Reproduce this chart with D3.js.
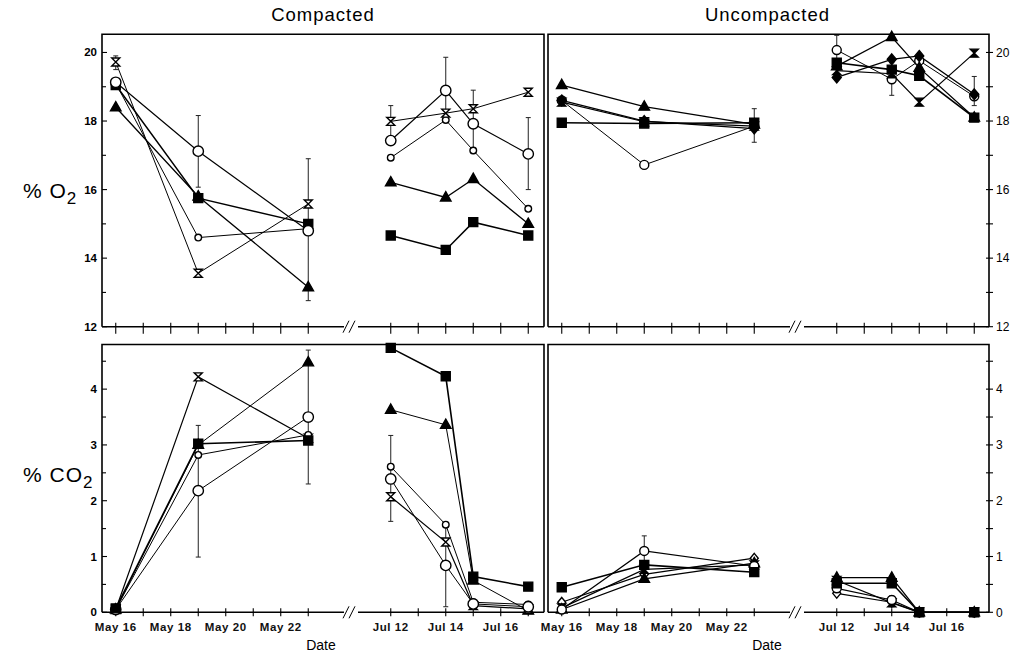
<!DOCTYPE html>
<html>
<head>
<meta charset="utf-8">
<script src="https://cdn.jsdelivr.net/npm/d3@7"></script>
<style>
  html, body { margin: 0; padding: 0; background: #fff; }
  svg { display: block; font-family: "Liberation Sans", Arial, Helvetica, sans-serif; }
</style>
</head>
<body>
<svg id="chart" width="1018" height="659"></svg>
<script>
// ---------------- DATA ----------------
const sampleDates = ["1987-05-16","1987-05-19","1987-05-23","1987-07-12","1987-07-14","1987-07-15","1987-07-17"];
const mayTickDates = ["1987-05-16","1987-05-17","1987-05-18","1987-05-19","1987-05-20","1987-05-21","1987-05-22","1987-05-23"];
const julTickDates = ["1987-07-12","1987-07-13","1987-07-14","1987-07-15","1987-07-16","1987-07-17"];
const dateTickLabels = ["May 16","May 18","May 20","May 22","Jul 12","Jul 14","Jul 16"];
const dateTickLabelDates = ["1987-05-16","1987-05-18","1987-05-20","1987-05-22","1987-07-12","1987-07-14","1987-07-16"];
const o2Ticks = [12, 14, 16, 18, 20];
const o2MinorTicks = [13, 15, 17, 19];
const co2Ticks = [0, 1, 2, 3, 4];
const co2MinorTicks = [0.5, 1.5, 2.5, 3.5, 4.5];
const panelTitles = ["Compacted", "Uncompacted"];

// Compacted, % O2
const compO2_circle    = [19.13, 17.12, 14.80, 17.43, 18.89, 17.92, 17.04];
const compO2_small     = [19.10, 14.60, 14.86, 16.93, 18.03, 17.14, 15.44];
const compO2_square    = [19.05, 15.75, 15.00, 14.66, 14.24, 15.05, 14.66];
const compO2_triangle  = [18.40, 15.80, 13.15, 16.21, 15.77, 16.31, 15.00];
const compO2_hourglass = [19.72, 13.56, 15.58, 17.99, 18.23, 18.36, 18.84];

// Uncompacted, % O2
const uncO2_circle    = [18.60, 16.72, 17.85, 20.07, 19.22, 19.76, 18.72];
const uncO2_diamond   = [18.60, 18.00, 17.78, 19.27, 19.80, 19.90, 18.78];
const uncO2_square    = [17.95, 17.93, 17.95, 19.70, 19.50, 19.32, 18.10];
const uncO2_triangle  = [19.05, 18.42, 17.90, 19.60, 20.45, 19.55, 18.10];
const uncO2_hourglass = [18.55, 17.98, 17.85, 19.47, 19.38, 18.55, 19.98];

// Compacted, % CO2
const compCO2_circle    = [0.05, 2.18, 3.50, 2.39, 0.84, 0.15, 0.10];
const compCO2_small     = [0.05, 2.82, 3.18, 2.61, 1.57, 0.18, 0.14];
const compCO2_square    = [0.07, 3.02, 3.08, 4.74, 4.23, 0.64, 0.46];
const compCO2_triangle  = [0.05, 3.00, 4.48, 3.63, 3.36, 0.57, 0.03];
const compCO2_hourglass = [0.05, 4.22, 3.12, 2.07, 1.26, 0.12, 0.06];

// Uncompacted, % CO2
const uncCO2_circle    = [0.05, 1.10, 0.83, 0.43, 0.22, 0, 0];
const uncCO2_diamond   = [0.18, 0.68, 0.97, 0.34, 0.18, 0, 0];
const uncCO2_square    = [0.45, 0.85, 0.72, 0.52, 0.52, 0, 0];
const uncCO2_triangle  = [0.05, 0.60, 0.88, 0.62, 0.62, 0, 0];
const uncCO2_hourglass = [0.08, 0.77, 0.85, 0.57, 0.17, 0, 0];

// Error bars: [date index, low, high]
const compO2_err  = [[0, 19.5, 19.9], [1, 16.07, 18.16], [2, 12.76, 16.9], [3, 17.4, 18.45], [4, 18.0, 19.86], [5, 17.05, 18.9], [6, 16.0, 18.1]];
const uncO2_err   = [[2, 17.38, 18.36], [3, 19.6, 20.5], [4, 18.75, 19.7], [6, 18.45, 19.3]];
const compCO2_err = [[1, 0.99, 3.35], [2, 2.3, 4.7], [3, 1.63, 3.17], [4, 0.1, 1.52]];
const uncCO2_err  = [[1, 0.85, 1.37], [4, 0.1, 0.3]];

// ---------------- LAYOUT ----------------
const svg = d3.select("#chart");
const parse = d3.timeParse("%Y-%m-%d");

const cols = [{x0: 102, w: 442}, {x0: 548, w: 441}];
const rows = [
  {y0: 34.3, y1: 326.7, domain: [12, 20.53], ticks: o2Ticks, minor: o2MinorTicks},
  {y0: 344.5, y1: 612.3, domain: [0, 4.80], ticks: co2Ticks, minor: co2MinorTicks}
];
const dayW = 27.5;

function xScaleFor(col) {
  const c = cols[col];
  return d3.scaleTime()
    .domain([parse("1987-05-16"), parse("1987-05-23"), parse("1987-07-12"), parse("1987-07-17")])
    .range([c.x0 + 0.5 * dayW, c.x0 + 7.5 * dayW, c.x0 + 10.5 * dayW, c.x0 + 15.5 * dayW]);
}

const symbolPaths = {
  circle: r => d3.arc()({innerRadius: 0, outerRadius: r, startAngle: 0, endAngle: 2 * Math.PI}),
  square: s => `M${-s},${-s}H${s}V${s}H${-s}Z`,
  triangle: s => `M0,${-s * 1.15}L${s * 1.05},${s * 0.7}L${-s * 1.05},${s * 0.7}Z`,
  hourglass: s => `M${-s},${-s}H${s}L${-s},${s}H${s}Z`,
  diamond: s => `M0,${-s * 1.2}L${s},0L0,${s * 1.2}L${-s},0Z`
};

const panels = [
  {col: 0, row: 0, err: compO2_err, series: [
    {v: compO2_triangle, shape: "triangle", size: 5, fill: "#000", lw: 1.3},
    {v: compO2_square, shape: "square", size: 4.5, fill: "#000", lw: 1.5},
    {v: compO2_small, shape: "circle", size: 3.3, fill: "#fff", lw: 1.0},
    {v: compO2_hourglass, shape: "hourglass", size: 4, fill: "#fff", lw: 1.0},
    {v: compO2_circle, shape: "circle", size: 5.2, fill: "#fff", lw: 1.2}
  ]},
  {col: 1, row: 0, err: uncO2_err, series: [
    {v: uncO2_circle, shape: "circle", size: 4.5, fill: "#fff", lw: 1.0},
    {v: uncO2_hourglass, shape: "hourglass", size: 4, fill: "#000", lw: 1.2},
    {v: uncO2_diamond, shape: "diamond", size: 4.5, fill: "#000", lw: 1.3},
    {v: uncO2_triangle, shape: "triangle", size: 5, fill: "#000", lw: 1.3},
    {v: uncO2_square, shape: "square", size: 4.5, fill: "#000", lw: 1.6}
  ]},
  {col: 0, row: 1, err: compCO2_err, series: [
    {v: compCO2_triangle, shape: "triangle", size: 5, fill: "#000", lw: 1.0},
    {v: compCO2_hourglass, shape: "hourglass", size: 4, fill: "#fff", lw: 1.2},
    {v: compCO2_small, shape: "circle", size: 3.3, fill: "#fff", lw: 1.0},
    {v: compCO2_circle, shape: "circle", size: 5.2, fill: "#fff", lw: 1.0},
    {v: compCO2_square, shape: "square", size: 4.5, fill: "#000", lw: 1.6}
  ]},
  {col: 1, row: 1, err: uncCO2_err, series: [
    {v: uncCO2_diamond, shape: "diamond", size: 4, fill: "#fff", lw: 1.2},
    {v: uncCO2_triangle, shape: "triangle", size: 5, fill: "#000", lw: 1.3},
    {v: uncCO2_hourglass, shape: "hourglass", size: 4, fill: "#000", lw: 1.2},
    {v: uncCO2_circle, shape: "circle", size: 4.5, fill: "#fff", lw: 1.2},
    {v: uncCO2_square, shape: "square", size: 4.5, fill: "#000", lw: 1.5}
  ]}
];

const dates = sampleDates.map(parse);

panels.forEach(p => {
  const c = cols[p.col], r = rows[p.row];
  const x = xScaleFor(p.col);
  const y = d3.scaleLinear().domain(r.domain).range([r.y1, r.y0]);
  const g = svg.append("g");
  const x1 = c.x0 + c.w;

  // frame: left, top, right
  g.append("path")
    .attr("d", `M${c.x0},${r.y1}V${r.y0}H${x1}V${r.y1}`)
    .attr("fill", "none").attr("stroke", "#000").attr("stroke-width", 1.6);

  // bottom axis with break
  const brkA = c.x0 + 242, brkB = c.x0 + 256;
  g.append("line").attr("x1", c.x0).attr("x2", brkA).attr("y1", r.y1).attr("y2", r.y1)
    .attr("stroke", "#000").attr("stroke-width", 1.6);
  g.append("line").attr("x1", brkB).attr("x2", x1).attr("y1", r.y1).attr("y2", r.y1)
    .attr("stroke", "#000").attr("stroke-width", 1.6);
  [brkA + 1, brkA + 7].forEach(bx => {
    g.append("line").attr("x1", bx - 2).attr("x2", bx + 4).attr("y1", r.y1 + 6).attr("y2", r.y1 - 6)
      .attr("stroke", "#000").attr("stroke-width", 1);
  });

  // x ticks
  const tickDn = p.row === 0 ? 7 : 4;
  mayTickDates.concat(julTickDates).map(parse).forEach(d => {
    g.append("line").attr("x1", x(d)).attr("x2", x(d)).attr("y1", r.y1 - 4).attr("y2", r.y1 + tickDn)
      .attr("stroke", "#000").attr("stroke-width", 1.1);
  });
  if (p.row === 1) {
    dateTickLabelDates.forEach((ds, i) => {
      g.append("text").attr("x", x(parse(ds))).attr("y", r.y1 + 19)
        .attr("text-anchor", "middle").attr("font-size", 11.5).attr("font-weight", "bold")
        .attr("letter-spacing", 0.6).attr("fill", "#111").text(dateTickLabels[i]);
    });
    g.append("text").attr("x", c.x0 + 219).attr("y", 650)
      .attr("text-anchor", "middle").attr("font-size", 14).text("Date");
  }

  // y axis
  const axisX = p.col === 0 ? c.x0 : x1;
  r.ticks.forEach(t => {
    if (p.col === 0) {
      g.append("line").attr("x1", axisX).attr("x2", axisX + 5).attr("y1", y(t)).attr("y2", y(t))
        .attr("stroke", "#000").attr("stroke-width", 1.1);
      g.append("text").attr("x", axisX - 5).attr("y", y(t)).attr("dy", "0.35em")
        .attr("text-anchor", "end").attr("font-size", 11.5).attr("font-weight", "bold").text(t);
    } else {
      g.append("line").attr("x1", axisX - 3).attr("x2", axisX + 4).attr("y1", y(t)).attr("y2", y(t))
        .attr("stroke", "#000").attr("stroke-width", 1.1);
      g.append("text").attr("x", axisX + 7).attr("y", y(t)).attr("dy", "0.35em")
        .attr("text-anchor", "start").attr("font-size", 12).text(t);
    }
  });
  r.minor.forEach(t => {
    if (y(t) < r.y0) return;
    if (p.col === 0) {
      g.append("line").attr("x1", axisX).attr("x2", axisX + 4).attr("y1", y(t)).attr("y2", y(t))
        .attr("stroke", "#000").attr("stroke-width", 1.1);
    } else {
      g.append("line").attr("x1", axisX - 3).attr("x2", axisX + 4).attr("y1", y(t)).attr("y2", y(t))
        .attr("stroke", "#000").attr("stroke-width", 1.1);
    }
  });

  // error bars
  p.err.forEach(([i, lo, hi]) => {
    const ex = x(dates[i]);
    g.append("line").attr("x1", ex).attr("x2", ex).attr("y1", y(lo)).attr("y2", y(hi))
      .attr("stroke", "#222").attr("stroke-width", 1);
    [lo, hi].forEach(v => g.append("line").attr("x1", ex - 2.5).attr("x2", ex + 2.5)
      .attr("y1", y(v)).attr("y2", y(v)).attr("stroke", "#222").attr("stroke-width", 1));
  });

  // lines (two segments per series: May and July)
  const line = d3.line().x(d => x(d[0])).y(d => y(d[1]));
  p.series.forEach(s => {
    const pts = dates.map((d, i) => [d, s.v[i]]);
    [pts.slice(0, 3), pts.slice(3)].forEach(seg => {
      g.append("path").attr("d", line(seg)).attr("fill", "none")
        .attr("stroke", "#000").attr("stroke-width", s.lw);
    });
  });
  // markers
  p.series.forEach(s => {
    dates.forEach((d, i) => {
      g.append("path").attr("d", symbolPaths[s.shape](s.size))
        .attr("transform", `translate(${x(d)},${y(s.v[i])})`)
        .attr("fill", s.fill).attr("stroke", "#000").attr("stroke-width", 1.4);
    });
  });
});

// titles
panelTitles.forEach((t, i) => {
  svg.append("text").attr("x", cols[i].x0 + cols[i].w / 2 + (i === 0 ? 0 : -1)).attr("y", 21)
    .attr("text-anchor", "middle").attr("font-size", 18.5).attr("letter-spacing", 1)
    .text(t);
});

// y labels
function yLabel(main, yy) {
  const t = svg.append("text").attr("x", 23).attr("y", yy).attr("font-size", 21).attr("letter-spacing", 1);
  t.append("tspan").text(main);
  t.append("tspan").attr("dy", 6).attr("font-size", 17).text("2");
}
yLabel("% O", 198);
yLabel("% CO", 482);
</script>
</body>
</html>
